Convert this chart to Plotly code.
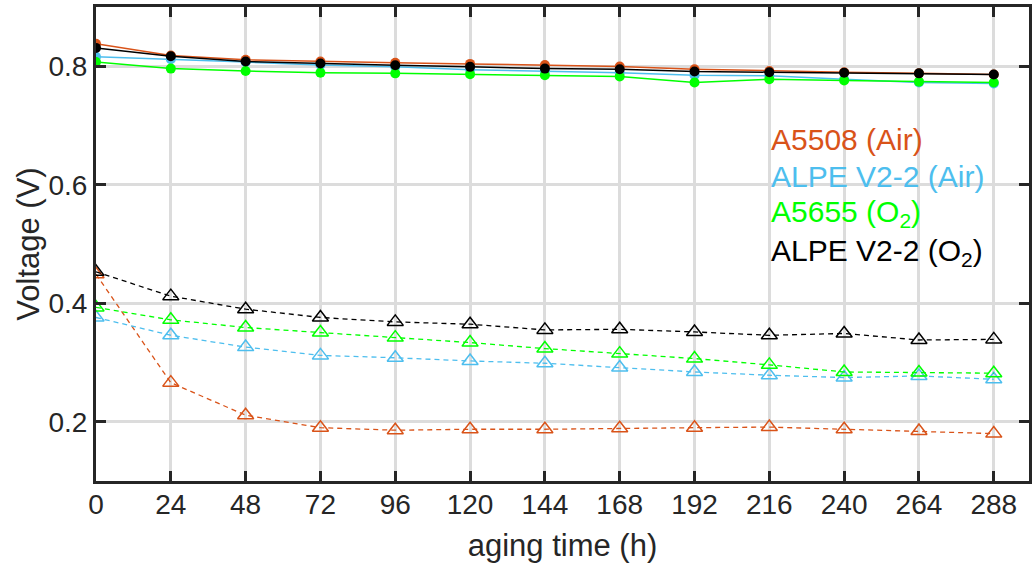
import plotly.graph_objects as go

hours = [0, 24, 48, 72, 96, 120, 144, 168, 192, 216, 240, 264, 288]

# Solid (circle) series
a5508_air_solid = [0.838, 0.818, 0.811, 0.808, 0.806, 0.804, 0.802, 0.7995, 0.795, 0.792, 0.790, 0.788, 0.786]
alpe_air_solid = [0.816, 0.812, 0.807, 0.802, 0.799, 0.794, 0.792, 0.789, 0.785, 0.784, 0.778, 0.7725, 0.771]
a5655_o2_solid = [0.807, 0.796, 0.792, 0.789, 0.788, 0.7865, 0.785, 0.7826, 0.7725, 0.778, 0.776, 0.774, 0.7725]
alpe_o2_solid = [0.831, 0.817, 0.808, 0.8045, 0.8017, 0.799, 0.796, 0.795, 0.791, 0.790, 0.789, 0.788, 0.786]

# Dashed (triangle) series
a5508_air_dash = [0.449, 0.266, 0.211, 0.190, 0.1857, 0.1873, 0.1873, 0.189, 0.190, 0.191, 0.1873, 0.1845, 0.180]
alpe_air_dash = [0.376, 0.346, 0.326, 0.312, 0.308, 0.3026, 0.2987, 0.2915, 0.284, 0.2785, 0.2746, 0.2773, 0.2717]
a5655_o2_dash = [0.393, 0.372, 0.359, 0.3505, 0.342, 0.3336, 0.3235, 0.315, 0.3066, 0.296, 0.284, 0.283, 0.282]
alpe_o2_dash = [0.453, 0.412, 0.390, 0.376, 0.3685, 0.3646, 0.355, 0.356, 0.3516, 0.3459, 0.349, 0.338, 0.339]

series_names = ["A5508 (Air)", "ALPE V2-2 (Air)", "A5655 (O<sub>2</sub>)", "ALPE V2-2 (O<sub>2</sub>)"]
colors = ["#D95319", "#4DBEEE", "#00FF00", "#000000"]
solid = [a5508_air_solid, alpe_air_solid, a5655_o2_solid, alpe_o2_solid]
dashed = [a5508_air_dash, alpe_air_dash, a5655_o2_dash, alpe_o2_dash]

fig = go.Figure()
for name, c, ys in zip(series_names, colors, solid):
    fig.add_trace(go.Scatter(x=hours, y=ys, mode="lines+markers", name=name,
                             line=dict(color=c, width=1.5),
                             marker=dict(symbol="circle", size=10, color=c),
                             showlegend=False))
for name, c, ys in zip(series_names, colors, dashed):
    fig.add_trace(go.Scatter(x=hours, y=ys, mode="lines+markers", name=name,
                             line=dict(color=c, width=1.3, dash="5px,4px"),
                             marker=dict(symbol="triangle-up-open", size=14, color=c,
                                         line=dict(color=c, width=1.5)),
                             showlegend=False))

legend_y = [0.676, 0.614, 0.551, 0.485]
for name, c, yy in zip(series_names, colors, legend_y):
    fig.add_annotation(x=216, y=yy, xref="x", yref="y", text=name, showarrow=False,
                       xanchor="left", yanchor="middle",
                       font=dict(family="Liberation Sans, Arial", size=30, color=c))

axis_common = dict(
    showline=True, linewidth=3, linecolor="#262626", mirror="ticks",
    ticks="inside", ticklen=10, tickwidth=3, tickcolor="#262626",
    showgrid=True, gridcolor="#dcdcdc", gridwidth=2.5, zeroline=False,
    tickfont=dict(family="Liberation Sans, Arial", size=28, color="#262626"),
)

fig.update_xaxes(range=[0, 299.3], tickvals=hours, ticktext=[str(h) for h in hours],
                 ticklabelstandoff=-4,
                 title=dict(text="aging time (h)", standoff=16,
                            font=dict(family="Liberation Sans, Arial", size=31, color="#262626")),
                 **axis_common)
fig.update_yaxes(range=[0.1, 0.9], tickvals=[0.2, 0.4, 0.6, 0.8],
                 ticktext=["0.2", "0.4", "0.6", "0.8"],
                 title=dict(text="Voltage (V)", standoff=0,
                            font=dict(family="Liberation Sans, Arial", size=31, color="#262626")),
                 **axis_common)

fig.update_layout(width=1035, height=569, margin=dict(l=96, r=3, t=7, b=88),
                  plot_bgcolor="white", paper_bgcolor="white", showlegend=False)

fig.write_html("out.html", config={"displayModeBar": False},
               post_script="document.body.style.margin='0px';")
